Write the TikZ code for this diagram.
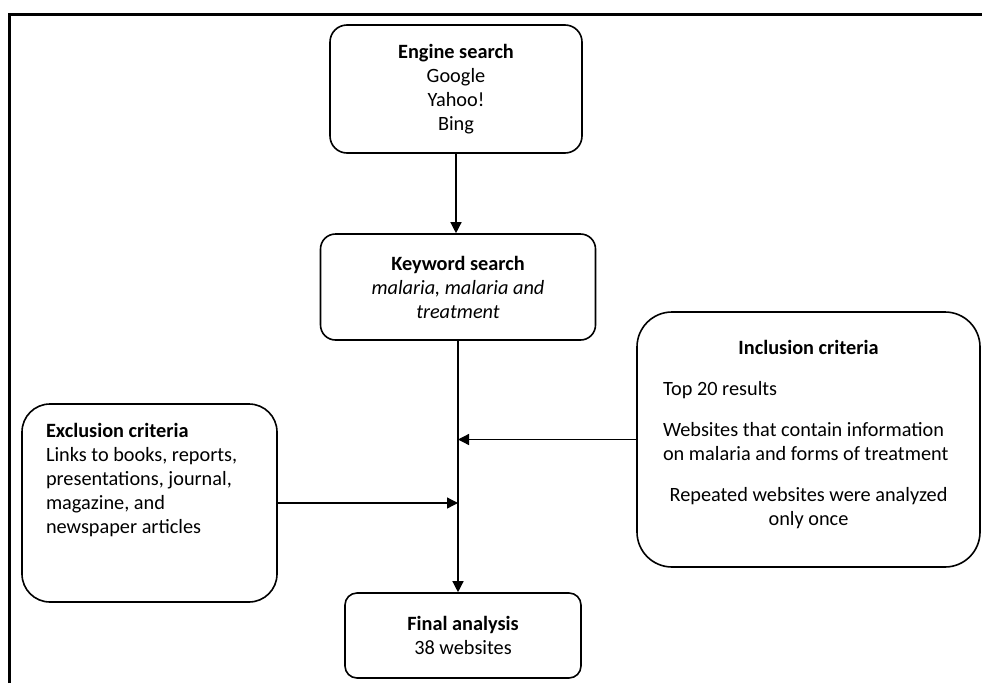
\documentclass[tikz,border=0pt]{standalone}
\usepackage{fontspec}
\setmainfont{Carlito}
\usetikzlibrary{arrows.meta}
\tikzstyle{every node}=[draw=black,line width=1.6pt,align=center,inner sep=0pt,font=\fontsize{20.3}{24}\selectfont]
\tikzstyle{flow}=[-{Triangle[length=11pt,width=11pt]},line width=1.3pt]

\begin{document}
\begin{tikzpicture}[x=1pt,y=-1pt]
          \useasboundingbox (0,0) rectangle (982,683);
          \draw[line width=3pt] (9,683) -- (9,14) -- (982,14);

          \node[rounded corners=17pt,minimum width=252pt,minimum height=128pt] (engine) at (456,89)
            {\textbf{Engine search}\\Google\\Yahoo!\\Bing};
          \node[rounded corners=15pt,minimum width=275pt,minimum height=106pt] (keyword) at (458,287)
            {\textbf{Keyword search}\\\textit{malaria, malaria and}\\\textit{treatment}};
          \node[rounded corners=28pt,minimum width=255pt,minimum height=198pt] (exclusion) at (149.5,503)
            {\parbox[c][160pt][t]{207pt}{\raggedright\textbf{Exclusion criteria}\\Links to books, reports,\\presentations, journal,\\magazine, and\\newspaper articles}};
          \node[rounded corners=35pt,minimum width=343pt,minimum height=255pt] (inclusion) at (808.5,439.5)
            {\parbox[c][198pt][t]{291pt}{\centering\textbf{Inclusion criteria}\par\vspace{17pt}
             \raggedright Top 20 results\par\vspace{17pt}
             Websites that contain information\\on malaria and forms of treatment\par\vspace{17pt}
             \centering Repeated websites were analyzed\\only once}};
          \node[rounded corners=12pt,minimum width=236pt,minimum height=85pt] (final) at (463,635.5)
            {\textbf{Final analysis}\\38 websites};

	  \draw[flow] (engine.south) -- (engine.south |- keyword.north);
	  \draw[flow] (keyword.south) -- (keyword.south |- final.north);
	  \draw[flow] (inclusion.west) -- (inclusion.west -| keyword.south);
	  \draw[flow] (exclusion.east) -- (exclusion.east -| keyword.south);
        \end{tikzpicture}
\end{document}
